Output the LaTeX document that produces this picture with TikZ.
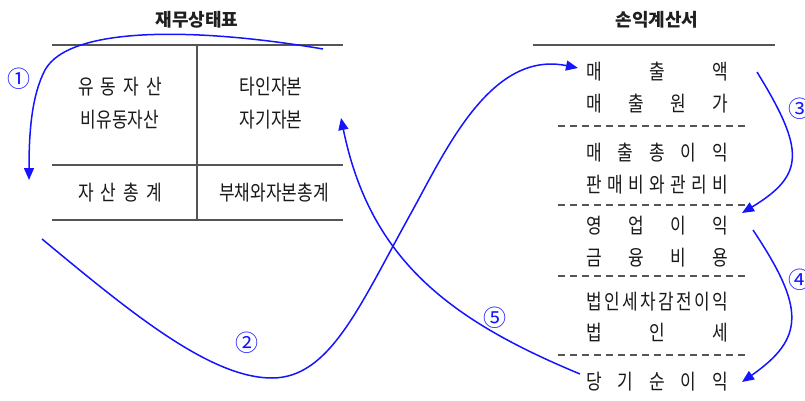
\documentclass[tikz,border=0pt]{standalone}
\usepackage{fontspec}
\usetikzlibrary{arrows.meta}
\newfontfamily\kr[FakeStretch=0.81]{Noto Sans CJK KR}
\newfontfamily\krt{Noto Sans CJK KR}
\definecolor{ln}{HTML}{555555}
\definecolor{ab}{HTML}{1414FF}
\newcommand\spreadrow[2]{\makebox[#1pt][s]{#2}}
\begin{document}
\begin{tikzpicture}[x=1pt,y=-1pt,
  tline/.style={draw=ln,line width=1.8pt},
  dline/.style={draw=ln,line width=1.6pt,dash pattern=on 7pt off 5pt},
  cell/.style={font=\kr\fontsize{21}{21}\selectfont,inner sep=0pt,anchor=center,text=black!90},
  ttl/.style={font=\krt\bfseries\fontsize{18}{18}\selectfont,inner sep=0pt,text=black!88},
  flow/.style={draw=ab,line width=1.5pt,-{Triangle[length=12pt,width=10pt]}},
  num/.style={text=ab,font=\krt\fontsize{23}{23}\selectfont,inner sep=0pt}]
\useasboundingbox (0,0) rectangle (805,401);

% ---------- left table ----------
\node[ttl] (bsT) at (197,20) {재무상태표};
\draw[tline] (52,45) -- (343,45);
\draw[tline] (52,165) -- (343,165);
\draw[tline] (52,220) -- (343,220);
\draw[tline] (197,45) -- (197,220);
\node[cell] (ca) at (120,87) {\spreadrow{84}{유\hfill 동\hfill 자\hfill 산}};
\node[cell] (nca) at (120,120) {비유동자산};
\node[cell] (liab) at (271,87) {타인자본};
\node[cell] (eq) at (271,120) {자기자본};
\node[cell] (ta) at (120,193) {\spreadrow{84}{자\hfill 산\hfill 총\hfill 계}};
\node[cell] (tle) at (274,193) {부채와자본총계};

% ---------- right table ----------
\node[ttl] (isT) at (657,20) {손익계산서};
\draw[tline] (533,45) -- (775,45);
\node[cell] (r1) at (657,72) {\spreadrow{142}{매\hfill 출\hfill 액}};
\node[cell] (r2) at (657,104) {\spreadrow{142}{매\hfill 출\hfill 원\hfill 가}};
\draw[dline] (558,126) -- (748,126);
\node[cell] (r3) at (657,153) {\spreadrow{142}{매\hfill 출\hfill 총\hfill 이\hfill 익}};
\node[cell] (r4) at (657,185) {\spreadrow{142}{판\hfill 매\hfill 비\hfill 와\hfill 관\hfill 리\hfill 비}};
\draw[dline] (558,205) -- (748,205);
\node[cell] (r5) at (657,226) {\spreadrow{142}{영\hfill 업\hfill 이\hfill 익}};
\node[cell] (r6) at (657,258) {\spreadrow{142}{금\hfill 융\hfill 비\hfill 용}};
\draw[dline] (558,276) -- (748,276);
\node[cell] (r7) at (657,302) {\spreadrow{142}{법\hfill 인\hfill 세\hfill 차\hfill 감\hfill 전\hfill 이\hfill 익}};
\node[cell] (r8) at (657,333) {\spreadrow{142}{법\hfill 인\hfill 세}};
\draw[dline] (558,355) -- (748,355);
\node[cell] (r9) at (657,382) {\spreadrow{142}{당\hfill 기\hfill 순\hfill 이\hfill 익}};

% ---------- connector ends ----------
\coordinate (a1s) at (323,49);
\coordinate (a1e) at (29,180);
\coordinate (a2s) at (42,239);
\coordinate (a2e) at (578,68);
\coordinate (a3s) at (757,72);
\coordinate (a3e) at (742,213);
\coordinate (a4s) at (753,230);
\coordinate (a4e) at (742,382);
\coordinate (a5s) at (580,374);
\coordinate (a5e) at (341,118);

% ---------- arrows ----------
\draw[flow] (a1s) .. controls (200,28) and (70,25) .. (45,70)
  .. controls (32,95) and (29,130) .. (a1e);
\draw[flow] (a2s) .. controls (130,312) and (210,378) .. (272,378)
  .. controls (330,378) and (360,305) .. (410,215)
  .. controls (445,152) and (490,50) .. (a2e);
\draw[flow] (a3s) .. controls (805,150) and (805,175) .. (a3e);
\draw[flow] (a4s) .. controls (805,308) and (805,338) .. (a4e);
\draw[flow] (a5s) .. controls (450,320) and (370,260) .. (a5e);

% ---------- labels ----------
\node[num] (n1) at (19,79) {①};
\node[num] (n2) at (247,343) {②};
\node[num] (n3) at (800,109) {③};
\node[num] (n4) at (800,280) {④};
\node[num] (n5) at (495,318) {⑤};
\end{tikzpicture}
\end{document}
